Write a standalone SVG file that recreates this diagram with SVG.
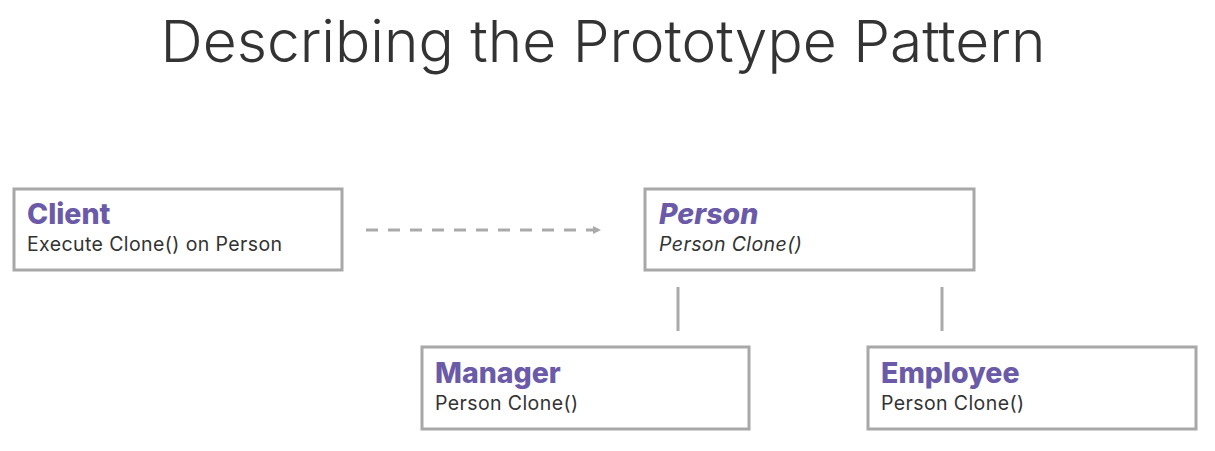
<svg xmlns="http://www.w3.org/2000/svg" width="1215" height="451" viewBox="0 0 1215 451">
<style>
.box{fill:#fff;stroke:#a8a8a8;stroke-width:3}
.t{font-family:Inter,"Noto Sans",sans-serif;font-weight:800;font-size:28.5px;fill:#6a5aa8}
.s{font-family:Inter,"Noto Sans",sans-serif;font-size:19.5px;fill:#333;letter-spacing:0.4px}
.i{font-style:italic}
.ln{stroke:#aaa;stroke-width:3;fill:none}
</style>
<defs>
<marker id="ah" markerWidth="8" markerHeight="8" refX="7" refY="4" orient="auto" markerUnits="userSpaceOnUse">
<path d="M0,0 L8,4 L0,8 Z" fill="#aaa"/>
</marker>
</defs>
<rect width="1215" height="451" fill="#fff"/>
<text x="603" y="62" text-anchor="middle" font-family="Inter,'Noto Sans',sans-serif" font-weight="300" font-size="58" fill="#333" textLength="885" lengthAdjust="spacingAndGlyphs">Describing the Prototype Pattern</text>
<g id="client">
<rect class="box" x="14" y="189" width="328" height="81"/>
<text class="t" x="27" y="224">Client</text>
<text class="s" x="27" y="251">Execute Clone() on Person</text>
</g>
<g id="person">
<rect class="box" x="645" y="189" width="329" height="81"/>
<text class="t i" x="659" y="224">Person</text>
<text class="s i" x="659" y="251">Person Clone()</text>
</g>
<g id="manager">
<rect class="box" x="422" y="347" width="327" height="82"/>
<text class="t" x="435" y="383">Manager</text>
<text class="s" x="435" y="410">Person Clone()</text>
</g>
<g id="employee">
<rect class="box" x="868" y="347" width="328" height="82"/>
<text class="t" x="881" y="383">Employee</text>
<text class="s" x="881" y="410">Person Clone()</text>
</g>
<g id="connectors">
<path class="ln" d="M366,230 H600" stroke-dasharray="12,10" marker-end="url(#ah)"/>
<path class="ln" d="M678,287 V331"/>
<path class="ln" d="M942,287 V331"/>
</g>
</svg>
